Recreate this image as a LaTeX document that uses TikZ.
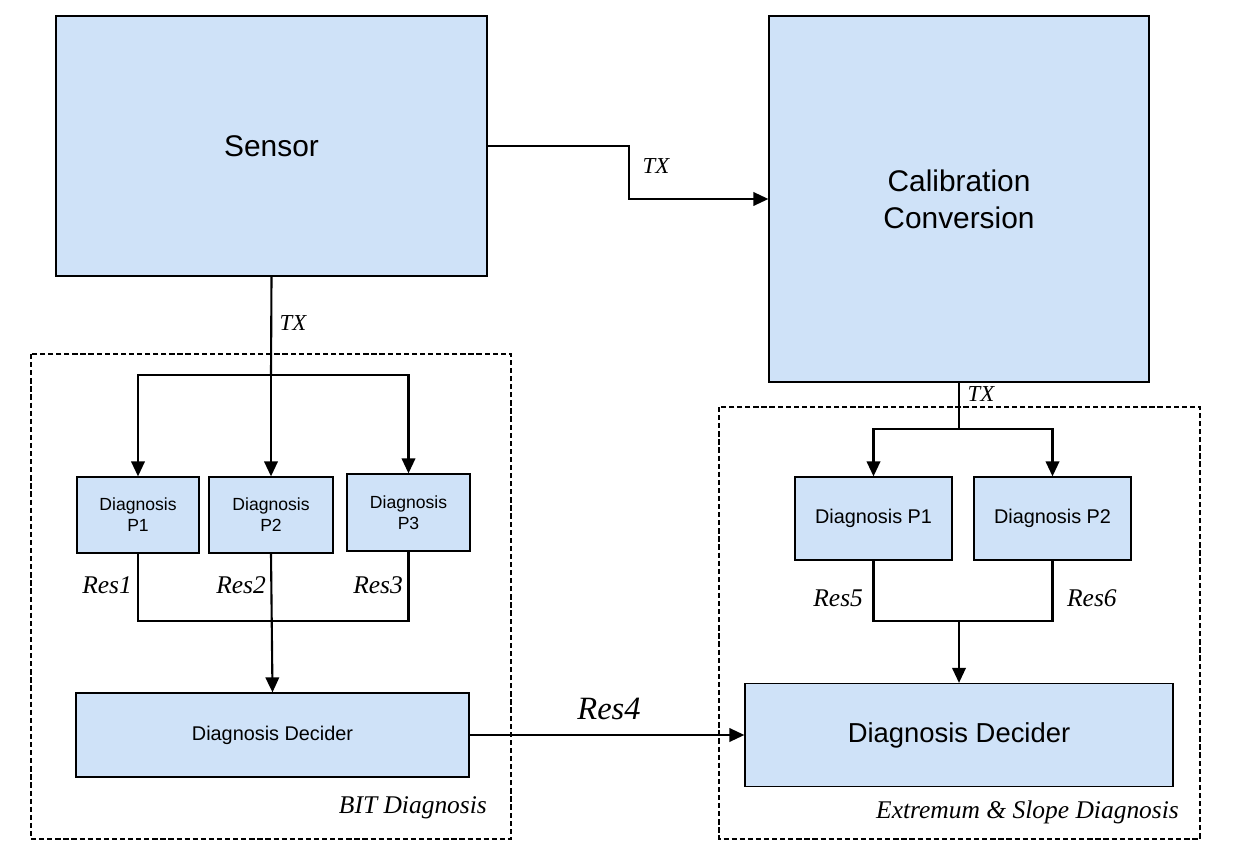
\documentclass[tikz,border=0pt]{standalone}
\usepackage{fontspec}
\setmainfont{Liberation Sans}
\newfontfamily\lblfont{Liberation Serif}
\usetikzlibrary{arrows.meta}
\definecolor{boxblue}{RGB}{207,226,248}
\begin{document}
\begin{tikzpicture}[
  blk/.style={draw, line width=0.7pt, fill=boxblue, align=center, inner sep=0pt},
  arr/.style={line width=1.2pt, -{Triangle[length=0.3cm, width=0.27cm]}},
  wire/.style={line width=1.2pt},
  grp/.style={draw, line width=0.6pt, dash pattern=on 3pt off 1.6pt},
  lbl/.style={font=\lblfont\itshape\fontsize{14.5}{17}\selectfont, inner sep=1pt}]
\useasboundingbox (0,0) rectangle (24.66,-17.3);
\draw[grp] (0.62,-7.08) rectangle (10.22,-16.78);
\draw[grp] (14.38,-8.14) rectangle (24.0,-16.78);
\node[blk, minimum width=8.62cm, minimum height=5.2cm, font=\fontsize{17}{20}\selectfont] (sensor) at (5.43,-2.92){Sensor};
\node[blk, minimum width=7.6cm, minimum height=7.32cm, font=\fontsize{17}{21}\selectfont] (calib) at (19.18,-3.98){Calibration\\Conversion};
\node[blk, minimum width=2.44cm, minimum height=1.52cm, font=\fontsize{10}{12}\selectfont] (lp1) at (2.76,-10.3){Diagnosis\\P1};
\node[blk, minimum width=2.48cm, minimum height=1.52cm, font=\fontsize{10}{12}\selectfont] (lp2) at (5.42,-10.3){Diagnosis\\P2};
\node[blk, minimum width=2.46cm, minimum height=1.54cm, font=\fontsize{10}{12}\selectfont] (lp3) at (8.17,-10.25){Diagnosis\\P3};
\node[blk, minimum width=7.86cm, minimum height=1.68cm, font=\fontsize{11.3}{13}\selectfont] (ldec) at (5.45,-14.7){Diagnosis Decider};
\node[blk, minimum width=3.14cm, minimum height=1.66cm, font=\fontsize{11.3}{13}\selectfont] (rp1) at (17.47,-10.37){Diagnosis P1};
\node[blk, minimum width=3.14cm, minimum height=1.66cm, font=\fontsize{11.3}{13}\selectfont] (rp2) at (21.05,-10.37){Diagnosis P2};
\node[blk, minimum width=8.56cm, minimum height=2.06cm, font=\fontsize{15.6}{18}\selectfont] (rdec) at (19.18,-14.7){Diagnosis Decider};
\coordinate (splitL) at (5.42,-7.5);
\coordinate (mergeL) at (5.42,-12.42);
\coordinate (splitR) at (19.18,-8.58);
\coordinate (mergeR) at (19.18,-12.42);
\draw[arr](sensor.east) -- ++(2.82,0) |- (calib.west);
\draw[wire](sensor.south) -- (splitL);
\draw[arr](splitL) -| (lp1.north);
\draw[arr](splitL) -- (lp2.north);
\draw[arr](splitL) -| (lp3.north);
\draw[wire](lp1.south) |- (mergeL);
\draw[wire](lp3.south) |- (mergeL);
\draw[arr](lp2.south) -- (ldec.north);
\draw[arr](ldec.east) -- (rdec.west);
\draw[wire](calib.south) -- (splitR);
\draw[arr](splitR) -| (rp1.north);
\draw[arr](splitR) -| (rp2.north);
\draw[wire](rp1.south) |- (mergeR);
\draw[wire](rp2.south) |- (mergeR);
\draw[arr](mergeR) -- (rdec.north);
\node[lbl, font=\lblfont\itshape\fontsize{13}{15}\selectfont] (tx1) at (13.12,-3.32){TX};
\node[lbl, font=\lblfont\itshape\fontsize{13}{15}\selectfont] (tx2) at (5.86,-6.46){TX};
\node[lbl, font=\lblfont\itshape\fontsize{13}{15}\selectfont] (tx3) at (19.62,-7.88){TX};
\node[lbl, anchor=east] (res1) at (2.68,-11.7){Res1};
\node[lbl, anchor=east] (res2) at (5.36,-11.7){Res2};
\node[lbl, anchor=east] (res3) at (8.1,-11.7){Res3};
\node[lbl, font=\lblfont\itshape\fontsize{18.5}{21}\selectfont] (res4) at (12.18,-14.18){Res4};
\node[lbl, anchor=east] (res5) at (17.3,-11.96){Res5};
\node[lbl, anchor=west] (res6) at (21.3,-11.96){Res6};
\node[lbl, anchor=east] (bit) at (9.78,-16.16){BIT Diagnosis};
\node[lbl, anchor=east] (ext) at (23.62,-16.24){Extremum \& Slope Diagnosis};
\end{tikzpicture}
\end{document}
